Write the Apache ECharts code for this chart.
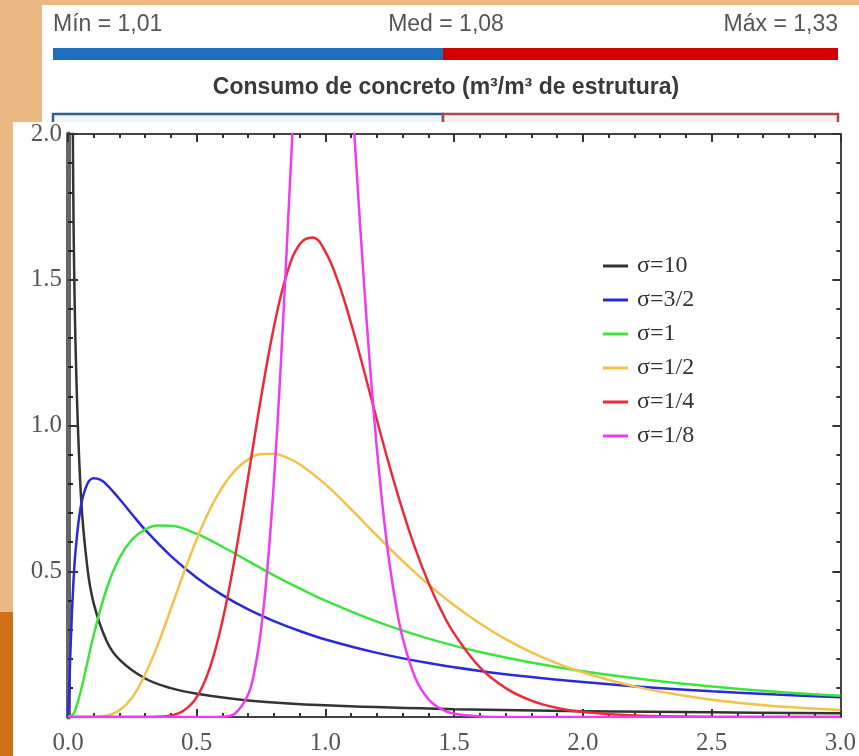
<!DOCTYPE html>
<html>
<head>
<meta charset="utf-8">
<script src="https://cdn.jsdelivr.net/npm/echarts@6/dist/echarts.min.js"></script>
<style>
  html, body { margin: 0; padding: 0; background: #e9b883; }
  #chart { width: 859px; height: 756px; }
</style>
</head>
<body>
<div id="chart"></div>
<script>
// summary numbers shown above the chart
var statLabels = ['Mín = 1,01', 'Med = 1,08', 'Máx = 1,33'];
var panelTitle = 'Consumo de concreto (m³/m³ de estrutura)';

// legend names
var sigmaNames = ['σ=10', 'σ=3/2', 'σ=1', 'σ=1/2', 'σ=1/4', 'σ=1/8'];
var sigmaColors = ['#333333', '#2a2ad8', '#3ee43e', '#f2c24a', '#ec2a3a', '#ee3cee'];

// axis tick labels
var xTickLabels = ['0.0', '0.5', '1.0', '1.5', '2.0', '2.5', '3.0'];
var yTickLabels = ['', '0.5', '1.0', '1.5', '2.0'];

// curves, [x, y]
var curve10 = [
  [0.005, 6.9], [0.01, 3.59], [0.02, 1.85], [0.03, 1.25], [0.05, 0.763], [0.075, 0.514],
  [0.1, 0.389], [0.15, 0.261], [0.2, 0.197], [0.3, 0.132], [0.4, 0.099], [0.5, 0.080],
  [0.7, 0.057], [1.0, 0.040], [1.5, 0.027], [2.0, 0.020], [2.5, 0.016], [3.0, 0.013]
];
var curve32 = [
  [0, 0], [0.005, 0.104], [0.01, 0.239], [0.02, 0.444], [0.03, 0.576], [0.05, 0.723],
  [0.075, 0.799], [0.1, 0.819], [0.125, 0.814], [0.15, 0.797], [0.2, 0.748], [0.25, 0.694],
  [0.3, 0.642], [0.4, 0.552], [0.5, 0.478], [0.6, 0.418], [0.7, 0.369], [0.8, 0.329],
  [0.9, 0.295], [1.0, 0.266], [1.2, 0.220], [1.4, 0.185], [1.6, 0.158], [1.8, 0.137],
  [2.0, 0.120], [2.25, 0.102], [2.5, 0.088], [2.75, 0.077], [3.0, 0.068]
];
var curve1 = [
  [0, 0], [0.02, 0.010], [0.03, 0.028], [0.05, 0.090], [0.075, 0.186], [0.1, 0.282],
  [0.15, 0.440], [0.2, 0.546], [0.25, 0.610], [0.3, 0.644], [0.35, 0.657], [0.4, 0.656],
  [0.5, 0.628], [0.6, 0.584], [0.7, 0.535], [0.8, 0.486], [0.9, 0.441], [1.0, 0.399],
  [1.2, 0.327], [1.4, 0.269], [1.6, 0.223], [1.8, 0.187], [2.0, 0.157], [2.25, 0.128],
  [2.5, 0.105], [2.75, 0.087], [3.0, 0.073]
];
var curveHalf = [
  [0, 0], [0.1, 0.0002], [0.15, 0.004], [0.2, 0.023], [0.25, 0.068], [0.3, 0.147],
  [0.35, 0.251], [0.4, 0.372], [0.45, 0.495], [0.5, 0.610], [0.55, 0.710], [0.6, 0.789],
  [0.65, 0.847], [0.7, 0.884], [0.75, 0.902], [0.8, 0.903], [0.85, 0.890], [0.9, 0.867],
  [1.0, 0.798], [1.1, 0.712], [1.2, 0.622], [1.3, 0.535], [1.4, 0.455], [1.5, 0.383],
  [1.6, 0.321], [1.7, 0.267], [1.8, 0.222], [1.9, 0.184], [2.0, 0.153], [2.2, 0.105],
  [2.4, 0.072], [2.6, 0.049], [2.8, 0.034], [3.0, 0.024]
];
var curveQuarter = [
  [0, 0], [0.3, 0.0001], [0.35, 0.0007], [0.4, 0.005], [0.45, 0.022], [0.5, 0.068],
  [0.55, 0.166], [0.6, 0.330], [0.65, 0.556], [0.7, 0.824], [0.75, 1.097], [0.8, 1.339],
  [0.85, 1.520], [0.9, 1.622], [0.95, 1.645], [1.0, 1.596], [1.05, 1.491], [1.1, 1.349],
  [1.15, 1.187], [1.2, 1.019], [1.25, 0.857], [1.3, 0.708], [1.35, 0.575], [1.4, 0.461],
  [1.45, 0.365], [1.5, 0.286], [1.6, 0.170], [1.7, 0.099], [1.8, 0.056], [1.9, 0.031],
  [2.0, 0.017], [2.2, 0.005], [2.5, 0.001], [3.0, 0]
];
var curveEighth = [
  [0, 0], [0.55, 0.0001], [0.6, 0.001], [0.65, 0.013], [0.7, 0.078], [0.725, 0.161],
  [0.75, 0.301], [0.775, 0.515], [0.8, 0.811], [0.825, 1.184], [0.85, 1.613], [0.875, 2.062],
  [0.9, 2.486], [0.95, 3.05], [1.0, 3.19], [1.05, 2.817], [1.1, 2.170], [1.125, 1.820],
  [1.15, 1.485], [1.175, 1.182], [1.2, 0.918], [1.225, 0.698], [1.25, 0.519], [1.275, 0.379],
  [1.3, 0.271], [1.35, 0.132], [1.4, 0.061], [1.45, 0.027], [1.5, 0.011], [1.6, 0.002],
  [1.7, 0.0002], [3.0, 0]
];
var curves = [curve10, curve32, curve1, curveHalf, curveQuarter, curveEighth];

var chart = echarts.init(document.getElementById('chart'));

var serif = "'Liberation Serif', 'DejaVu Serif', serif";
var sans = "'Liberation Sans', 'DejaVu Sans', sans-serif";

// top / right copies of the frame, ticks only
function frameAxis(pos, max) {
  return {
    type: 'value',
    position: pos,
    min: 0,
    max: max,
    interval: 0.5,
    axisLine: { show: true, onZero: false, lineStyle: { color: '#444', width: 2 } },
    axisTick: { show: true, inside: true, length: 8, lineStyle: { color: '#333', width: 2 } },
    minorTick: { show: true, splitNumber: 5, length: 4, lineStyle: { color: '#333', width: 2 } },
    axisLabel: { show: false },
    splitLine: { show: false }
  };
}

var option = {
  backgroundColor: '#e9b883',
  animation: false,
  graphic: [
    { type: 'rect', z: -20, shape: { x: 0, y: 612, width: 20, height: 144 }, style: { fill: '#cf7217' } },
    { type: 'rect', z: -20, shape: { x: 42, y: 5, width: 817, height: 125 }, style: { fill: '#ffffff' } },
    { type: 'rect', z: -19, shape: { x: 53, y: 48, width: 390, height: 12 }, style: { fill: '#1c6fbe' } },
    { type: 'rect', z: -19, shape: { x: 443, y: 48, width: 395, height: 12 }, style: { fill: '#d20000' } },
    { type: 'rect', z: -19, shape: { x: 53, y: 114, width: 390, height: 30 }, style: { fill: '#eef6fb', stroke: '#2f5f86', lineWidth: 2.5 } },
    { type: 'rect', z: -19, shape: { x: 443, y: 114, width: 395, height: 30 }, style: { fill: '#fbeef0', stroke: '#a94856', lineWidth: 2.5 } },
    { type: 'text', z: -18, x: 53, y: 25, style: { text: statLabels[0], font: '23px ' + sans, fill: '#555', textVerticalAlign: 'middle' } },
    { type: 'text', z: -18, x: 446, y: 25, style: { text: statLabels[1], font: '23px ' + sans, fill: '#555', textAlign: 'center', textVerticalAlign: 'middle' } },
    { type: 'text', z: -18, x: 838, y: 25, style: { text: statLabels[2], font: '23px ' + sans, fill: '#555', textAlign: 'right', textVerticalAlign: 'middle' } },
    { type: 'text', z: -18, x: 446, y: 88, style: { text: panelTitle, font: 'bold 23px ' + sans, fill: '#3a3a3a', textAlign: 'center', textVerticalAlign: 'middle' } },
    { type: 'rect', z: -17, shape: { x: 13, y: 122, width: 846, height: 634 }, style: { fill: '#ffffff' } }
  ],
  grid: { left: 68, right: 13, top: 134, bottom: 38, containLabel: false },
  legend: {
    orient: 'vertical',
    left: 598,
    top: 249,
    icon: 'rect',
    itemWidth: 25,
    itemHeight: 3,
    itemGap: 10,
    data: sigmaNames,
    textStyle: { fontFamily: serif, fontSize: 24, color: '#333', lineHeight: 24, padding: [0, 0, 0, 4] }
  },
  xAxis: [
    {
      type: 'value',
      position: 'bottom',
      min: 0,
      max: 3,
      interval: 0.5,
      axisLine: { show: true, onZero: false, lineStyle: { color: '#444', width: 2 } },
      axisTick: { show: true, inside: true, length: 8, lineStyle: { color: '#333', width: 2 } },
      minorTick: { show: true, splitNumber: 5, length: 4, lineStyle: { color: '#333', width: 2 } },
      axisLabel: {
        margin: 14,
        fontFamily: serif,
        fontSize: 25,
        color: '#555',
        formatter: function (v) { return xTickLabels[Math.round(v / 0.5)]; }
      },
      splitLine: { show: false }
    },
    frameAxis('top', 3)
  ],
  yAxis: [
    {
      type: 'value',
      position: 'left',
      min: 0,
      max: 2,
      interval: 0.5,
      axisLine: { show: true, onZero: false, lineStyle: { color: '#666', width: 5 } },
      axisTick: { show: true, inside: true, length: 10, lineStyle: { color: '#333', width: 2 } },
      minorTick: { show: true, splitNumber: 5, length: 5, lineStyle: { color: '#222', width: 2 } },
      axisLabel: {
        margin: 6,
        fontFamily: serif,
        fontSize: 25,
        color: '#555',
        formatter: function (v) { return yTickLabels[Math.round(v / 0.5)]; }
      },
      splitLine: { show: false }
    },
    frameAxis('right', 2)
  ],
  series: curves.map(function (d, i) {
    return {
      name: sigmaNames[i],
      type: 'line',
      xAxisIndex: 0,
      yAxisIndex: 0,
      data: d,
      smooth: 0.4,
      showSymbol: false,
      clip: true,
      lineStyle: { color: sigmaColors[i], width: 2.5 },
      itemStyle: { color: sigmaColors[i] }
    };
  })
};

chart.setOption(option);
</script>
</body>
</html>
